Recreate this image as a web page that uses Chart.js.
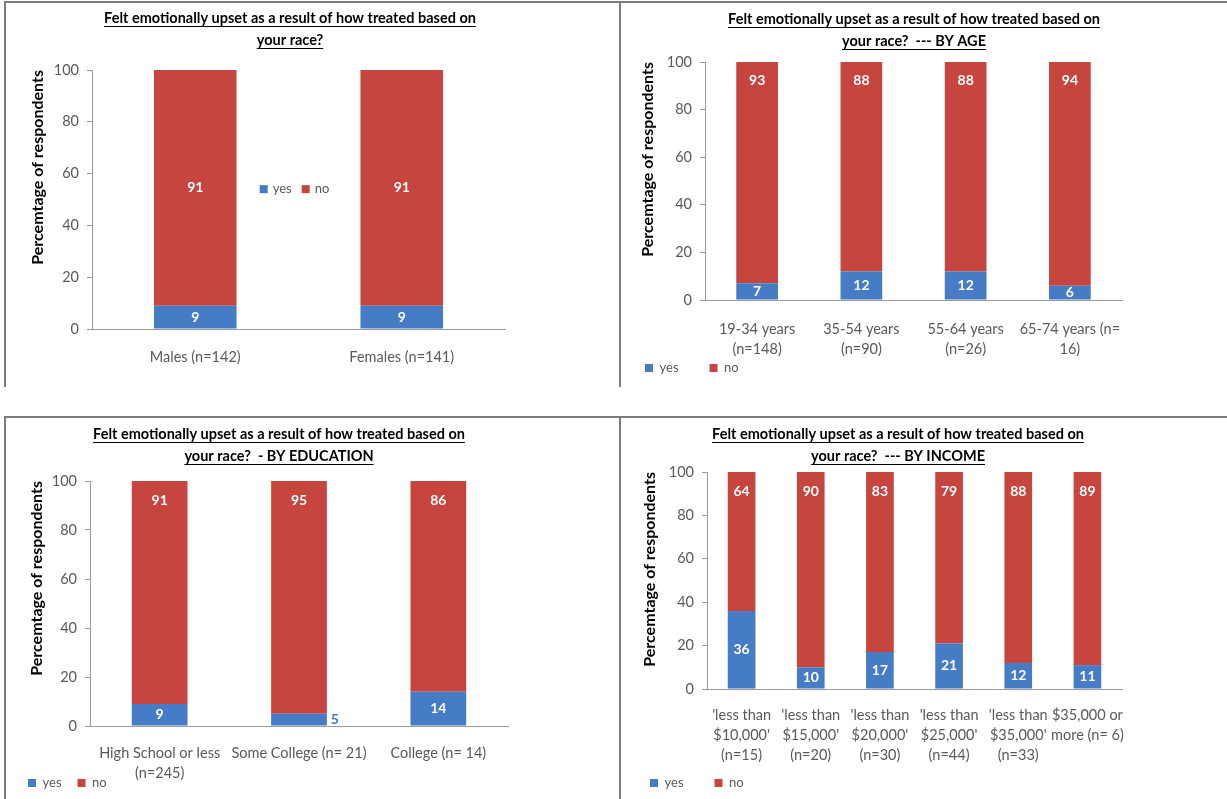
<!DOCTYPE html>
<html>
<head>
<meta charset="utf-8">
<script src="https://cdn.jsdelivr.net/npm/chart.js@4.4.1/dist/chart.umd.min.js"></script>
<style>
  html, body { margin: 0; padding: 0; background: #fff; }
  body { width: 1227px; height: 799px; position: relative; overflow: hidden; }
  .panel { position: absolute; border-left: 2px solid #7d7d7d; border-top: 2px solid #7d7d7d; }
  .panel canvas { display: block; }
</style>
</head>
<body>
<div class="panel" style="left:4px;top:1px;"><canvas id="genderChart" width="613" height="384"></canvas></div>
<div class="panel" style="left:619px;top:1px;"><canvas id="ageChart" width="606" height="384"></canvas></div>
<div class="panel" style="left:4px;top:416px;"><canvas id="eduChart" width="613" height="381"></canvas></div>
<div class="panel" style="left:619px;top:416px;"><canvas id="incomeChart" width="606" height="381"></canvas></div>
<script>
const SERIES = ['yes', 'no'];
const Y_TICKS = [0, 20, 40, 60, 80, 100];
const Y_TITLE = 'Percemtage of respondents';
const TITLE_LINE = 'Felt emotionally upset as a result of how treated based on';

const genderLabels = ['Males (n=142)', 'Females (n=141)'];
const genderYes = [9, 9];
const genderNo = [91, 91];

const ageLabels = [['19-34 years', '(n=148)'], ['35-54 years', '(n=90)'], ['55-64 years', '(n=26)'], ['65-74 years (n=', '16)']];
const ageYes = [7, 12, 12, 6];
const ageNo = [93, 88, 88, 94];

const eduLabels = [['High School or less', '(n=245)'], 'Some College (n= 21)', 'College (n= 14)'];
const eduYes = [9, 5, 14];
const eduNo = [91, 95, 86];

const incomeLabels = [
  ["'less than", "$10,000'", '(n=15)'],
  ["'less than", "$15,000'", '(n=20)'],
  ["'less than", "$20,000'", '(n=30)'],
  ["'less than", "$25,000'", '(n=44)'],
  ["'less than", "$35,000'", '(n=33)'],
  ['$35,000 or', 'more (n= 6)'],
];
const incomeYes = [36, 10, 17, 21, 12, 11];
const incomeNo = [64, 90, 83, 79, 88, 89];

const FONT = 'Lato, "Open Sans", sans-serif';
const YES_COLOR = '#467cc6';
const NO_COLOR = '#c6463f';
const AXIS_COLOR = '#9b9b9b';
const TICK_COLOR = '#595959';
const TITLE_SIZE = 14.5;
const TITLE_LH = 22;
const Y_TITLE_SIZE = 16;
const LEGEND_SIZE = 13;
const LEGEND_ROW = 14;

// moves the title and legend boxes after layout
const nudge = {
  id: 'nudge',
  afterLayout(chart, args, opts) {
    const t = chart.titleBlock;
    if (t && opts.titleX !== undefined) {
      const dx = opts.titleX - (t.left + t.right) / 2;
      t.left += dx;
      t.right += dx;
    }
    const lg = chart.legend;
    if (lg && lg.options.display && opts.legendX !== undefined) {
      const pad = lg.options.labels.padding;
      const dx = opts.legendX - (lg.left + pad);
      const dy = opts.legendY - (lg.top + pad + LEGEND_SIZE / 2);
      lg.left += dx;
      lg.right += dx;
      lg.top += dy;
      // the legend clips to its own box, so keep the bottom edge below the row
      lg.bottom = Math.max(lg.bottom, chart.height);
    }
  },
};

// underline each line of the chart title
const underline = {
  id: 'underline',
  afterDraw(chart) {
    const t = chart.titleBlock;
    if (!t || !t.options.display) return;
    const {ctx} = chart;
    const lines = [].concat(t.options.text);
    const cx = (t.left + t.right) / 2;
    ctx.save();
    ctx.font = `bold ${TITLE_SIZE}px ${FONT}`;
    ctx.strokeStyle = '#000';
    ctx.lineWidth = 1;
    lines.forEach((line, i) => {
      const w = ctx.measureText(line).width;
      const y = Math.round(t.top + t.options.padding.top + TITLE_LH * (i + 0.5) + TITLE_SIZE * 0.5 + 1) + 0.5;
      ctx.beginPath();
      ctx.moveTo(cx - w / 2, y);
      ctx.lineTo(cx + w / 2, y);
      ctx.stroke();
    });
    ctx.restore();
  },
};

// value labels inside each stacked segment
const segmentLabels = {
  id: 'segmentLabels',
  afterDatasetsDraw(chart, args, opts) {
    const {ctx} = chart;
    ctx.save();
    ctx.font = `bold 14px ${FONT}`;
    ctx.textBaseline = 'middle';
    chart.data.datasets.forEach((ds, di) => {
      chart.getDatasetMeta(di).data.forEach((bar, i) => {
        const value = ds.data[i];
        const top = Math.min(bar.y, bar.base);
        const bottom = Math.max(bar.y, bar.base);
        if (bottom - top < 13) {
          // too thin: put the number beside the bar
          ctx.fillStyle = ds.backgroundColor;
          ctx.textAlign = 'left';
          ctx.fillText(value, bar.x + bar.width / 2 + 4, (top + bottom) / 2);
          return;
        }
        ctx.fillStyle = '#fff';
        ctx.textAlign = 'center';
        const y = di === 1 && opts.topOffset ? top + opts.topOffset : (top + bottom) / 2;
        ctx.fillText(value, bar.x, y);
      });
    });
    ctx.restore();
  },
};

// legend drawn inside the plot, between the bars
const inlineLegend = {
  id: 'inlineLegend',
  afterDraw(chart, args, opts) {
    if (!opts.display) return;
    const {ctx, chartArea} = chart;
    ctx.save();
    ctx.font = `${LEGEND_SIZE}px ${FONT}`;
    ctx.textBaseline = 'middle';
    const items = chart.data.datasets.map(ds => ({
      text: ds.label,
      color: ds.backgroundColor,
      w: 8 + 5 + ctx.measureText(ds.label).width,
    }));
    const gap = 10;
    const total = items.reduce((s, it) => s + it.w, 0) + gap * (items.length - 1);
    let x = (chartArea.left + chartArea.right) / 2 - total / 2 - 4;
    const y = chartArea.top + chartArea.height * opts.at;
    items.forEach(it => {
      ctx.fillStyle = it.color;
      ctx.fillRect(x, y - 4, 8, 8);
      ctx.fillStyle = TICK_COLOR;
      ctx.fillText(it.text, x + 13, y);
      x += it.w + gap;
    });
    ctx.restore();
  },
};

function stackedPanel(canvasId, p) {
  const ctx = document.getElementById(canvasId).getContext('2d');
  const hasLegend = p.legendX !== undefined;
  return new Chart(ctx, {
    type: 'bar',
    data: {
      labels: p.labels,
      datasets: [
        { label: SERIES[0], data: p.yes, backgroundColor: YES_COLOR },
        { label: SERIES[1], data: p.no, backgroundColor: NO_COLOR },
      ],
    },
    options: {
      responsive: false,
      animation: false,
      layout: { padding: { left: 0, top: 0, right: p.padRight, bottom: 0 } },
      datasets: { bar: { categoryPercentage: 0.4, barPercentage: 1 } },
      scales: {
        x: {
          stacked: true,
          grid: { display: false, drawTicks: false },
          border: { color: AXIS_COLOR, width: 1 },
          ticks: {
            color: TICK_COLOR,
            font: { family: FONT, size: 14.5, lineHeight: 20 / 14.5 },
            padding: p.xPad,
            maxRotation: 0,
            autoSkip: false,
          },
          // leave room below the plot for the category labels (and the legend row)
          afterFit: s => { s.height = p.height - p.plotBottom - (hasLegend ? LEGEND_ROW : 0); },
        },
        y: {
          stacked: true,
          min: 0,
          max: 100,
          afterBuildTicks: s => { s.ticks = Y_TICKS.map(v => ({ value: v })); },
          grid: { drawOnChartArea: false, tickLength: 5, color: AXIS_COLOR },
          border: { color: AXIS_COLOR, width: 1 },
          ticks: { color: TICK_COLOR, font: { family: FONT, size: 14.5 }, padding: 8 },
          title: {
            display: true,
            text: Y_TITLE,
            color: '#000',
            align: 'end',
            font: { family: FONT, size: Y_TITLE_SIZE, weight: 'bold' },
            padding: { top: p.yTitleX - Y_TITLE_SIZE * 0.6, bottom: 0 },
          },
          afterFit: s => { s.width = p.yWidth; },
        },
      },
      plugins: {
        title: {
          display: true,
          text: p.title,
          color: '#000',
          font: { family: FONT, size: TITLE_SIZE, weight: 'bold', lineHeight: TITLE_LH / TITLE_SIZE },
          padding: { top: p.titleTop, bottom: p.titleBottom },
        },
        legend: !hasLegend ? { display: false } : {
          display: true,
          position: 'bottom',
          align: 'start',
          maxHeight: LEGEND_ROW,
          labels: {
            boxWidth: 8,
            boxHeight: 8,
            padding: p.legendGap,
            color: TICK_COLOR,
            font: { family: FONT, size: LEGEND_SIZE },
          },
        },
        tooltip: { enabled: false },
        nudge: { titleX: p.titleX, legendX: p.legendX, legendY: p.legendY },
        segmentLabels: { topOffset: p.topOffset },
        inlineLegend: { display: !hasLegend, at: 0.46 },
      },
    },
    plugins: [nudge, underline, segmentLabels, inlineLegend],
  });
}

stackedPanel('genderChart', {
  labels: genderLabels, yes: genderYes, no: genderNo,
  title: [TITLE_LINE, 'your race?'],
  height: 384, plotBottom: 326, padRight: 114, titleTop: 4, titleBottom: 19,
  xPad: 18, yWidth: 86, yTitleX: 32, titleX: 284,
});

stackedPanel('ageChart', {
  labels: ageLabels, yes: ageYes, no: ageNo,
  title: [TITLE_LINE, 'your race?  --- BY AGE'],
  height: 384, plotBottom: 297, padRight: 105, titleTop: 5, titleBottom: 10,
  xPad: 19, yWidth: 84, yTitleX: 27, titleX: 293,
  legendX: 24, legendY: 365, legendGap: 31, topOffset: 18,
});

stackedPanel('eduChart', {
  labels: eduLabels, yes: eduYes, no: eduNo,
  title: [TITLE_LINE, 'your race?  - BY EDUCATION'],
  height: 381, plotBottom: 308, padRight: 111, titleTop: 5, titleBottom: 14,
  xPad: 17, yWidth: 84, yTitleX: 31, titleX: 273,
  legendX: 22, legendY: 365, legendGap: 16, topOffset: 19,
});

stackedPanel('incomeChart', {
  labels: incomeLabels, yes: incomeYes, no: incomeNo,
  title: [TITLE_LINE, 'your race?  --- BY INCOME'],
  height: 381, plotBottom: 271, padRight: 105, titleTop: 5, titleBottom: 5,
  xPad: 16, yWidth: 86, yTitleX: 29, titleX: 277,
  legendX: 29, legendY: 365, legendGap: 31, topOffset: 19,
});
</script>
</body>
</html>
